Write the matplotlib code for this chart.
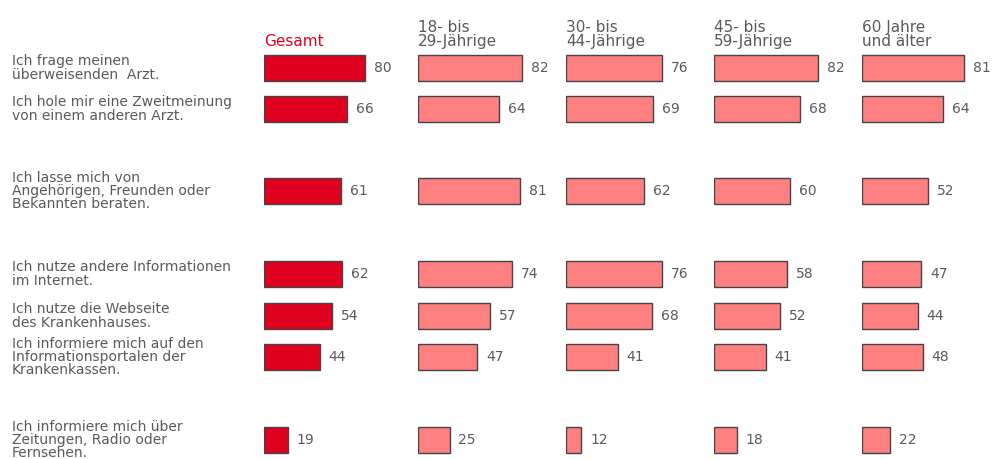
import matplotlib.pyplot as plt

# Daten
aussagen = [
    "Ich frage meinen\nüberweisenden  Arzt.",
    "Ich hole mir eine Zweitmeinung\nvon einem anderen Arzt.",
    "Ich lasse mich von\nAngehörigen, Freunden oder\nBekannten beraten.",
    "Ich nutze andere Informationen\nim Internet.",
    "Ich nutze die Webseite\ndes Krankenhauses.",
    "Ich informiere mich auf den\nInformationsportalen der\nKrankenkassen.",
    "Ich informiere mich über\nZeitungen, Radio oder\nFernsehen.",
]
gruppen = ["Gesamt", "18- bis\n29-Jährige", "30- bis\n44-Jährige", "45- bis\n59-Jährige", "60 Jahre\nund älter"]
gesamt = [80, 66, 61, 62, 54, 44, 19]
alter_18_29 = [82, 64, 81, 74, 57, 47, 25]
alter_30_44 = [76, 69, 62, 76, 68, 41, 12]
alter_45_59 = [82, 68, 60, 58, 52, 41, 18]
alter_60 = [81, 64, 52, 47, 44, 48, 22]
werte = [gesamt, alter_18_29, alter_30_44, alter_45_59, alter_60]

# Layout (Pixel)
W, H = 992, 459
zeilen_y = [68, 109, 191, 274, 316, 357, 440]
spalten_x = [264, 418, 566, 714, 862]
px_pro_einheit = 1.265
grau = "#5a5a5a"
rot = "#E00020"
rosa = "#FF8080"

fig = plt.figure(figsize=(W / 100, H / 100), dpi=100)

# Beschriftungen links
txt = fig.add_axes([0, 0, 1, 1])
txt.set_xlim(0, W)
txt.set_ylim(H, 0)
txt.axis("off")
for y, a in zip(zeilen_y, aussagen):
    txt.text(12, y, a, ha="left", va="center", fontsize=10, color=grau, linespacing=0.92)

for i, (x0, g, w) in enumerate(zip(spalten_x, gruppen, werte)):
    breite = 130
    ax = fig.add_axes([x0 / W, 0, breite / W, 1])
    ax.set_xlim(0, breite / px_pro_einheit)
    ax.set_ylim(H, 0)
    ax.axis("off")
    farbe = rot if i == 0 else rosa
    ax.barh(zeilen_y, w, height=26, left=0, color=farbe, edgecolor="#444444", linewidth=1.0)
    for y, v in zip(zeilen_y, w):
        ax.text(v + 7, y, str(v), ha="left", va="center", fontsize=10, color=grau)
    ax.text(0, 49, g, ha="left", va="bottom", fontsize=11, color=rot if i == 0 else grau,
            linespacing=0.95)

fig.savefig("out.png", dpi=100)
